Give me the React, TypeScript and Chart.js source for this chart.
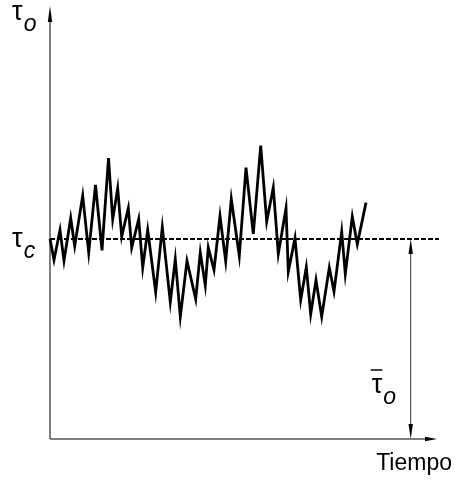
import React, { useEffect, useRef } from "react";
import { Chart, registerables } from "chart.js";

Chart.register(...registerables);

// Time (arbitrary units) of each vertex of the fluctuating stress trace
const timeValues = [
  0, 4, 10, 14, 20.7, 24.7, 32.7, 38.7, 45.5, 52,
  58.5, 62.7, 67.7, 71.7, 78.3, 81.7, 88.7, 92.7, 97.7, 105.7,
  112.3, 120.3, 125.3, 130.3, 137, 145.7, 150.3, 155.3, 158.3, 164,
  170, 175.7, 181.3, 189.3, 196, 203.3, 210.7, 216.7, 223.3, 228.3,
  236, 238.3, 245, 250.7, 256.3, 260.7, 266, 271.7, 279.3, 284,
  291.7, 295.3, 302.3, 307.3, 316,
];
// Bed shear stress tau_o (relative to critical stress tau_c = 1)
const tauValues = [
  1.0, 0.895, 1.045, 0.892, 1.105, 0.965, 1.217, 0.932, 1.27, 0.943,
  1.405, 1.099, 1.254, 1.012, 1.154, 0.957, 1.1, 0.857, 1.045, 0.734,
  1.059, 0.684, 0.899, 0.612, 0.89, 0.7, 0.932, 0.767, 0.957, 0.845,
  1.115, 0.89, 1.2, 0.915, 1.357, 1.025, 1.467, 1.087, 1.257, 0.925,
  1.154, 0.837, 1.004, 0.695, 0.859, 0.624, 0.795, 0.612, 0.857, 0.737,
  1.037, 0.825, 1.112, 0.974, 1.182,
];
const criticalTau = 1.0;
const criticalLineTimes = [0, 389];
const meanArrowTime = 360.7;
const xMax = 387;
const yMax = 2.165;

const axisLabelY = "τ";
const axisLabelYSub = "o";
const criticalLabel = "τ";
const criticalLabelSub = "c";
const meanLabel = "τ";
const meanLabelSub = "o";
const axisLabelX = "Tiempo";

const FONT = "'Liberation Sans', Arial, sans-serif";

function arrowHead(
  ctx: CanvasRenderingContext2D,
  tipX: number,
  tipY: number,
  dx: number,
  dy: number,
  len: number,
  half: number
) {
  const bx = tipX - dx * len;
  const by = tipY - dy * len;
  const px = -dy;
  const py = dx;
  ctx.beginPath();
  ctx.moveTo(tipX, tipY);
  ctx.lineTo(bx + px * half, by + py * half);
  ctx.lineTo(bx - px * half, by - py * half);
  ctx.closePath();
  ctx.fill();
}

function subLabel(
  ctx: CanvasRenderingContext2D,
  main: string,
  sub: string,
  x: number,
  baseline: number,
  overbar: boolean
) {
  ctx.save();
  ctx.fillStyle = "#000";
  ctx.textAlign = "left";
  ctx.textBaseline = "alphabetic";
  ctx.font = `27px ${FONT}`;
  ctx.fillText(main, x, baseline);
  const w = ctx.measureText(main).width;
  if (overbar) {
    ctx.strokeStyle = "#000";
    ctx.lineWidth = 1.5;
    ctx.beginPath();
    ctx.moveTo(x - 1, baseline - 23);
    ctx.lineTo(x + w, baseline - 23);
    ctx.stroke();
  }
  ctx.font = `italic 23px ${FONT}`;
  ctx.fillText(sub, x + w + 1, baseline + 11);
  ctx.restore();
}

const decorPlugin = {
  id: "decor",
  beforeDatasetsDraw(chart: any) {
    const { ctx, chartArea, scales } = chart;
    const xs = scales.x;
    const ys = scales.y;
    const x0 = chartArea.left;
    const y0 = chartArea.bottom;
    ctx.save();
    // axes
    ctx.strokeStyle = "#555";
    ctx.lineWidth = 1.5;
    ctx.beginPath();
    ctx.moveTo(x0, y0);
    ctx.lineTo(x0, chartArea.top + 10);
    ctx.moveTo(x0, y0);
    ctx.lineTo(chartArea.right - 6, y0);
    ctx.stroke();
    ctx.fillStyle = "#000";
    arrowHead(ctx, x0, chartArea.top, 0, -1, 16, 2.2);
    arrowHead(ctx, chartArea.right, y0, 1, 0, 12, 2.2);

    // mean stress double arrow
    const ax = xs.getPixelForValue(meanArrowTime);
    const ayTop = ys.getPixelForValue(criticalTau);
    const ayBot = ys.getPixelForValue(0);
    ctx.strokeStyle = "#333";
    ctx.lineWidth = 1;
    ctx.beginPath();
    ctx.moveTo(ax, ayTop + 8);
    ctx.lineTo(ax, ayBot - 8);
    ctx.stroke();
    arrowHead(ctx, ax, ayTop, 0, -1, 15, 2.2);
    arrowHead(ctx, ax, ayBot, 0, 1, 15, 2.2);
    ctx.restore();

    // labels
    subLabel(ctx, axisLabelY, axisLabelYSub, x0 - 38, chartArea.top + 14, false);
    subLabel(ctx, criticalLabel, criticalLabelSub, x0 - 38, ayTop + 8, false);
    subLabel(ctx, meanLabel, meanLabelSub, ax - 39, ys.getPixelForValue(0.23), true);

    ctx.save();
    ctx.fillStyle = "#000";
    ctx.font = `23px ${FONT}`;
    ctx.textAlign = "right";
    ctx.textBaseline = "alphabetic";
    ctx.fillText(axisLabelX, chartArea.right + 15, y0 + 31);
    ctx.restore();
  },
};

export default function App() {
  const ref = useRef<HTMLCanvasElement | null>(null);
  useEffect(() => {
    if (!ref.current) return;
    const chart = new Chart(ref.current, {
      type: "line",
      data: {
        datasets: [
          {
            data: criticalLineTimes.map((t) => ({ x: t, y: criticalTau })),
            borderColor: "#000",
            borderWidth: 2,
            borderDash: [5, 2],
            pointRadius: 0,
            clip: false as any,
          },
          {
            data: timeValues.map((t, i) => ({ x: t, y: tauValues[i] })),
            borderColor: "#000",
            borderWidth: 2.8,
            borderJoinStyle: "miter",
            tension: 0,
            pointRadius: 0,
            clip: false as any,
          },
        ],
      },
      options: {
        animation: false,
        responsive: false,
        events: [],
        layout: { padding: { left: 50, right: 20, top: 6, bottom: 47 } },
        plugins: { legend: { display: false }, tooltip: { enabled: false } },
        scales: {
          x: { type: "linear", min: 0, max: xMax, display: false },
          y: { type: "linear", min: 0, max: yMax, display: false },
        },
      },
      plugins: [decorPlugin],
    });
    return () => chart.destroy();
  }, []);
  return (
    <div style={{ position: "fixed", left: 0, top: 0, width: 457, height: 486, background: "#fff" }}>
      <canvas ref={ref} width={457} height={486} style={{ display: "block" }} />
    </div>
  );
}
